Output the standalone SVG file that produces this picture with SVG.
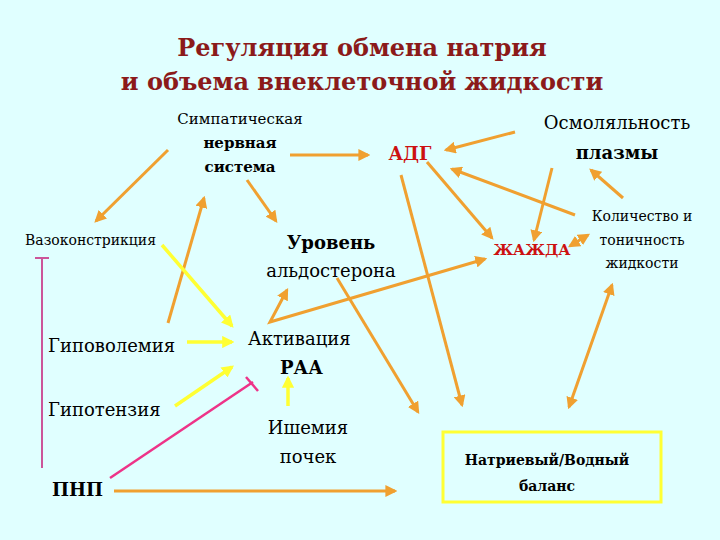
<svg xmlns="http://www.w3.org/2000/svg" width="720" height="540" viewBox="0 0 720 540" font-family="'DejaVu Serif', 'Liberation Serif', serif">
<defs>
<style>
.t{font-size:24px;font-weight:bold;fill:#8b1a1a}
.r{font-size:18px}
.s{font-size:15px}
.k{font-size:14px}
.b{font-weight:bold}
.red{fill:#cc1111;font-weight:bold}
.o{stroke:#f0a030;stroke-width:3;fill:none}
.y{stroke:#ffff33;stroke-width:3.5;fill:none}
.p{stroke:#ee3388;stroke-width:2.5;fill:none}
.p2{stroke:#cc5599;stroke-width:2;fill:none}
</style>
<marker id="ao" viewBox="0 0 10 10" refX="8" refY="5" markerWidth="4" markerHeight="4" orient="auto-start-reverse"><path d="M0,0L10,5L0,10z" fill="#f0a030"/></marker>
<marker id="ay" viewBox="0 0 10 10" refX="8" refY="5" markerWidth="3.5" markerHeight="3.5" orient="auto"><path d="M0,0L10,5L0,10z" fill="#ffff33"/></marker>
</defs>
<rect width="720" height="540" fill="#e0ffff"/>
<g>
<text class="t" x="362" y="56" text-anchor="middle">Регуляция обмена натрия</text>
<text class="t" x="362" y="90" text-anchor="middle">и объема внеклеточной жидкости</text>
<g id="symp"><text class="s" x="240" y="124" text-anchor="middle">Симпатическая</text><text class="s b" x="240" y="148" text-anchor="middle">нервная</text><text class="s b" x="240" y="172" text-anchor="middle">система</text></g>
<g id="adg"><text class="r red" x="410" y="160" text-anchor="middle">АДГ</text></g>
<g id="osmo"><text class="r" x="617" y="129" text-anchor="middle">Осмоляльность</text><text class="r b" x="617" y="159" text-anchor="middle">плазмы</text></g>
<g id="vazo"><text class="k" x="25" y="245">Вазоконстрикция</text></g>
<g id="urov"><text class="r b" x="331" y="249" text-anchor="middle">Уровень</text><text class="r" x="331" y="277" text-anchor="middle">альдостерона</text></g>
<g id="zhazhda"><text class="s red" x="532" y="255" text-anchor="middle">ЖАЖДА</text></g>
<g id="kol"><text class="k" x="642" y="221" text-anchor="middle">Количество и</text><text class="k" x="642" y="245" text-anchor="middle">тоничность</text><text class="k" x="642" y="268" text-anchor="middle">жидкости</text></g>
<g id="gipov"><text class="r" x="48" y="352">Гиповолемия</text></g>
<g id="akt"><text class="r" x="248" y="345">Активация</text><text class="r b" x="280" y="374">РАА</text></g>
<g id="gipot"><text class="r" x="48" y="416">Гипотензия</text></g>
<g id="ish"><text class="r" x="308" y="434" text-anchor="middle">Ишемия</text><text class="r" x="308" y="463" text-anchor="middle">почек</text></g>
<g id="pnp"><text class="r b" x="52" y="496">ПНП</text></g>
<g id="natr"><rect x="443" y="432" width="218" height="70" fill="none" stroke="#ffff33" stroke-width="3"/><text class="k b" x="547" y="465" text-anchor="middle">Натриевый/Водный</text><text class="k b" x="547" y="491" text-anchor="middle">баланс</text></g>
</g>
<g id="connectors">
<line class="o" x1="290" y1="155" x2="368" y2="155" marker-end="url(#ao)" stroke-width="2.5"/>
<line class="o" x1="168" y1="150" x2="96" y2="221" marker-end="url(#ao)"/>
<line class="o" x1="247" y1="180" x2="276" y2="221" marker-end="url(#ao)" stroke-width="2.5"/>
<line class="o" x1="168" y1="323" x2="204" y2="198" marker-end="url(#ao)" stroke-width="2.5"/>
<line class="y" x1="162" y1="245" x2="232" y2="326" marker-end="url(#ay)"/>
<line class="y" x1="187" y1="342" x2="232" y2="342" marker-end="url(#ay)"/>
<line class="y" x1="175" y1="406" x2="232" y2="367" marker-end="url(#ay)"/>
<line class="y" x1="288" y1="406" x2="288" y2="378" marker-end="url(#ay)"/>
<line class="p" x1="110" y1="478" x2="253" y2="382"/>
<line class="p" x1="246" y1="377" x2="258" y2="391"/>
<line class="p2" x1="42" y1="468" x2="42" y2="258"/>
<line class="p2" x1="35" y1="258" x2="49" y2="258"/>
<line class="o" x1="114" y1="491" x2="395" y2="491" marker-end="url(#ao)"/>
<polyline class="o" points="287,290 270,322 485,259" marker-start="url(#ao)" marker-end="url(#ao)" stroke-width="2.5"/>
<line class="o" x1="337" y1="278" x2="418" y2="412" marker-end="url(#ao)"/>
<line class="o" x1="401" y1="175" x2="462" y2="405" marker-end="url(#ao)"/>
<line class="o" x1="427" y1="162" x2="492" y2="238" marker-end="url(#ao)" stroke-width="2.5"/>
<line class="o" x1="515" y1="132" x2="446" y2="150" marker-end="url(#ao)"/>
<line class="o" x1="552" y1="168" x2="534" y2="240" marker-end="url(#ao)" stroke-width="2.5"/>
<line class="o" x1="575" y1="215" x2="452" y2="169" marker-end="url(#ao)"/>
<line class="o" x1="623" y1="198" x2="591" y2="170" marker-end="url(#ao)"/>
<line class="o" x1="570" y1="246" x2="588" y2="235" marker-start="url(#ao)" marker-end="url(#ao)" stroke-width="2"/>
<line class="o" x1="612" y1="285" x2="569" y2="407" marker-start="url(#ao)" marker-end="url(#ao)"/>
</g>
</svg>
